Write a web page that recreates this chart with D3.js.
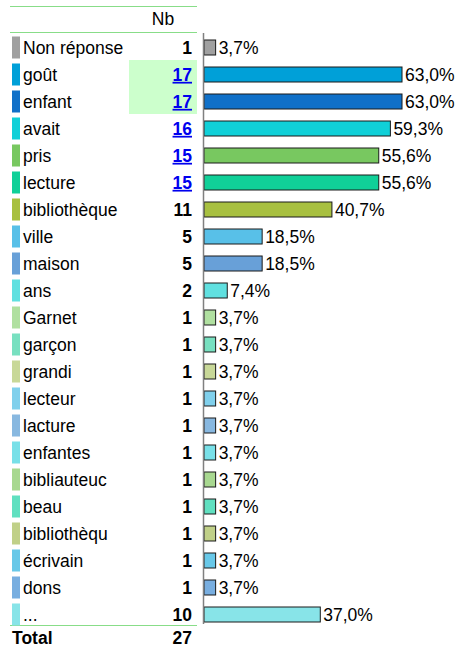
<!DOCTYPE html>
<html>
<head>
<meta charset="utf-8">
<script src="https://cdn.jsdelivr.net/npm/d3@7"></script>
<style>
  html, body { margin: 0; padding: 0; background: #fff; }
  svg { display: block; font-family: Arial, "Liberation Sans", sans-serif; }
</style>
</head>
<body>
<svg id="chart" width="458" height="648"></svg>
<script>
// Word frequency table: label, count, share of respondents
const categories = ["Non réponse", "goût", "enfant", "avait", "pris", "lecture", "bibliothèque",
  "ville", "maison", "ans", "Garnet", "garçon", "grandi", "lecteur", "lacture", "enfantes",
  "bibliauteuc", "beau", "bibliothèqu", "écrivain", "dons", "..."];
const counts = [1, 17, 17, 16, 15, 15, 11, 5, 5, 2, 1, 1, 1, 1, 1, 1, 1, 1, 1, 1, 1, 10];
const percents = [3.7, 63.0, 63.0, 59.3, 55.6, 55.6, 40.7, 18.5, 18.5, 7.4, 3.7, 3.7, 3.7, 3.7,
  3.7, 3.7, 3.7, 3.7, 3.7, 3.7, 3.7, 37.0];
const colors = ["#a0a0a0", "#00a0d8", "#1070c8", "#10d0d8", "#78c860", "#10d098", "#a8c040",
  "#58c0e8", "#68a0d8", "#60e0e0", "#b0e0a0", "#78e0c0", "#c8d898", "#80d0ec", "#88b8e0",
  "#78e0e8", "#a8d890", "#60e0c0", "#c0d088", "#68c8e8", "#78aee0", "#88e4e8"];
// Counts shown as blue links
const linked = ["goût", "enfant", "avait", "pris", "lecture"];
// Counts on a highlighted background
const highlighted = ["goût", "enfant"];
const total = 27;

const svg = d3.select("#chart");
const fmt = v => v.toFixed(1).replace(".", ",") + "%";
const FS = 17.5;

const y = d3.scaleBand().domain(categories).range([34, 628]).paddingInner(0).paddingOuter(0);
const x = d3.scaleLinear().domain([0, 100]).range([204, 518.3]);

const rows = categories.map((c, i) => ({ c, n: counts[i], p: percents[i], col: colors[i] }));

// highlighted cells behind the counts
const hl = rows.filter(r => highlighted.includes(r.c));
const hlTop = d3.min(hl, r => y(r.c)) - 1;
const hlBot = d3.max(hl, r => y(r.c) + y.bandwidth()) - 1;
svg.append("rect").attr("x", 129).attr("y", hlTop).attr("width", 68).attr("height", hlBot - hlTop)
  .attr("fill", "#ccffcc");

// header rules
const rule = "#88dd88";
[6.5, 32.5, 625.5].forEach(yy => {
  svg.append("line").attr("x1", 10).attr("x2", 197).attr("y1", yy).attr("y2", yy)
    .attr("stroke", rule).attr("stroke-width", 1);
});

svg.append("text").attr("x", 163).attr("y", 25).attr("text-anchor", "middle")
  .attr("font-size", FS).attr("fill", "#000").text("Nb");

const g = svg.append("g").selectAll("g").data(rows).join("g")
  .attr("transform", d => `translate(0,${y(d.c) + y.bandwidth() / 2})`);

// colour swatch
g.append("rect").attr("x", 12).attr("y", -11).attr("width", 8).attr("height", 22)
  .attr("fill", d => d.col);

// label
g.append("text").attr("x", 23).attr("y", 0).attr("dy", "0.36em").attr("font-size", FS)
  .attr("fill", "#000").text(d => d.c);

// count
g.append("text").attr("x", 192).attr("y", 0).attr("dy", "0.36em").attr("font-size", FS)
  .attr("font-weight", "bold").attr("text-anchor", "end")
  .attr("fill", d => linked.includes(d.c) ? "#0000ee" : "#000")
  .attr("text-decoration", d => linked.includes(d.c) ? "underline" : null)
  .text(d => d.n);

// bars
g.append("rect").attr("x", x(0)).attr("y", -7.5)
  .attr("width", d => x(d.p) - x(0)).attr("height", 15)
  .attr("fill", d => d.col).attr("stroke", "#1a1a1a").attr("stroke-width", 1);

// value labels
g.append("text").attr("x", d => x(d.p) + 3).attr("y", 0).attr("dy", "0.36em")
  .attr("font-size", FS).attr("fill", "#000").text(d => fmt(d.p));

// axis line
svg.append("line").attr("x1", 203.5).attr("x2", 203.5).attr("y1", 33).attr("y2", 624)
  .attr("stroke", "#808080").attr("stroke-width", 1.5);

// total row
svg.append("text").attr("x", 12).attr("y", 644).attr("font-size", FS).attr("font-weight", "bold")
  .attr("fill", "#000").text("Total");
svg.append("text").attr("x", 192).attr("y", 644).attr("font-size", FS).attr("font-weight", "bold")
  .attr("text-anchor", "end").attr("fill", "#000").text(total);
</script>
</body>
</html>
